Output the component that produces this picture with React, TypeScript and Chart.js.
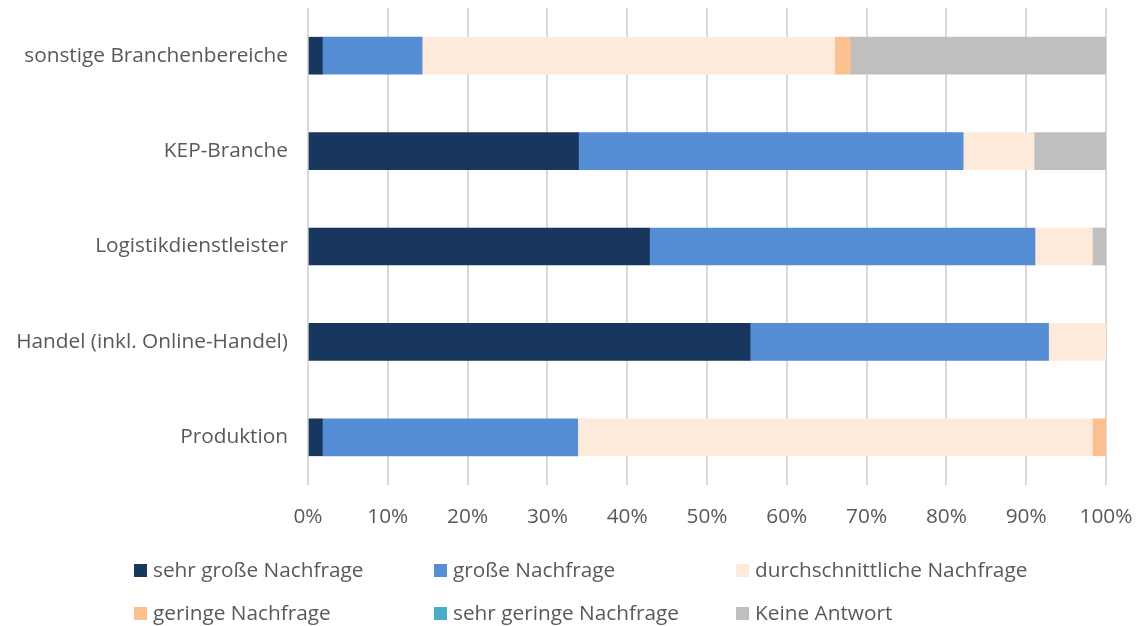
import React, { useEffect, useRef } from "react";
import { Chart, registerables } from "chart.js";

Chart.register(...registerables);

const categories = [
  "sonstige Branchenbereiche",
  "KEP-Branche",
  "Logistikdienstleister",
  "Handel (inkl. Online-Handel)",
  "Produktion",
];
const seriesNames = [
  "sehr große Nachfrage",
  "große Nachfrage",
  "durchschnittliche Nachfrage",
  "geringe Nachfrage",
  "sehr geringe Nachfrage",
  "Keine Antwort",
];
const sehrGross = [1.8, 33.9, 42.8, 55.4, 1.8];
const gross = [12.5, 48.2, 48.3, 37.4, 32.0];
const durchschnittlich = [51.7, 8.9, 7.2, 7.2, 64.5];
const gering = [2.0, 0, 0, 0, 1.7];
const sehrGering = [0, 0, 0, 0, 0];
const keineAntwort = [32.0, 9.0, 1.7, 0, 0];
const seriesColors = ["#17375E", "#558ED5", "#FDEADA", "#FAC090", "#4BACC6", "#BFBFBF"];

const FONT = "'Open Sans', 'Noto Sans', sans-serif";
const FONT_SIZE = 20.8;
const TEXT = "#595959";

const legendPlugin = {
  id: "gridLegend",
  afterDraw(chart: any) {
    const ctx = chart.ctx;
    const cols = [134, 434, 736];
    const rows = [571, 614];
    ctx.save();
    chart.data.datasets.forEach((ds: any, i: number) => {
      const x = cols[i % 3];
      const y = rows[Math.floor(i / 3)];
      ctx.fillStyle = ds.backgroundColor;
      ctx.fillRect(x, y - 7, 13, 13);
      ctx.fillStyle = TEXT;
      ctx.font = `${FONT_SIZE}px ${FONT}`;
      ctx.textBaseline = "middle";
      ctx.textAlign = "left";
      ctx.fillText(ds.label, x + 19, y);
    });
    ctx.restore();
  },
};

export default function App() {
  const ref = useRef<HTMLCanvasElement>(null);
  useEffect(() => {
    const values = [sehrGross, gross, durchschnittlich, gering, sehrGering, keineAntwort];
    const chart = new Chart(ref.current!, {
      type: "bar",
      data: {
        labels: categories,
        datasets: values.map((v, i) => ({
          label: seriesNames[i],
          data: v,
          backgroundColor: seriesColors[i],
          borderWidth: 0,
          barThickness: 37,
        })),
      },
      options: {
        indexAxis: "y",
        responsive: false,
        animation: false,
        layout: { padding: { top: 8, right: 31, bottom: 90, left: 0 } },
        plugins: { legend: { display: false }, tooltip: { enabled: false } },
        scales: {
          x: {
            stacked: true,
            min: 0,
            max: 100,
            ticks: {
              stepSize: 10,
              padding: 20,
              color: TEXT,
              font: { family: FONT, size: FONT_SIZE },
              callback: (v: any) => `${v}%`,
            },
            grid: { color: "#D9D9D9", lineWidth: 2, drawTicks: false },
            border: { display: false },
            afterFit: (s: any) => {
              s.height = 51;
              s.paddingLeft = 0;
              s.paddingRight = 0;
              s.paddingTop = 0;
              s.paddingBottom = 0;
            },
          },
          y: {
            stacked: true,
            ticks: {
              padding: 12,
              color: TEXT,
              font: { family: FONT, size: FONT_SIZE },
            },
            grid: { display: false },
            border: { display: false },
            afterFit: (s: any) => {
              s.width = 308;
              s.paddingLeft = 0;
              s.paddingRight = 0;
              s.paddingTop = 0;
              s.paddingBottom = 0;
            },
          },
        },
      },
      plugins: [legendPlugin],
    });
    return () => chart.destroy();
  }, []);
  return (
    <div style={{ position: "absolute", left: 0, top: 0, width: 1137, height: 626 }}>
      <canvas ref={ref} width={1137} height={626} />
    </div>
  );
}
